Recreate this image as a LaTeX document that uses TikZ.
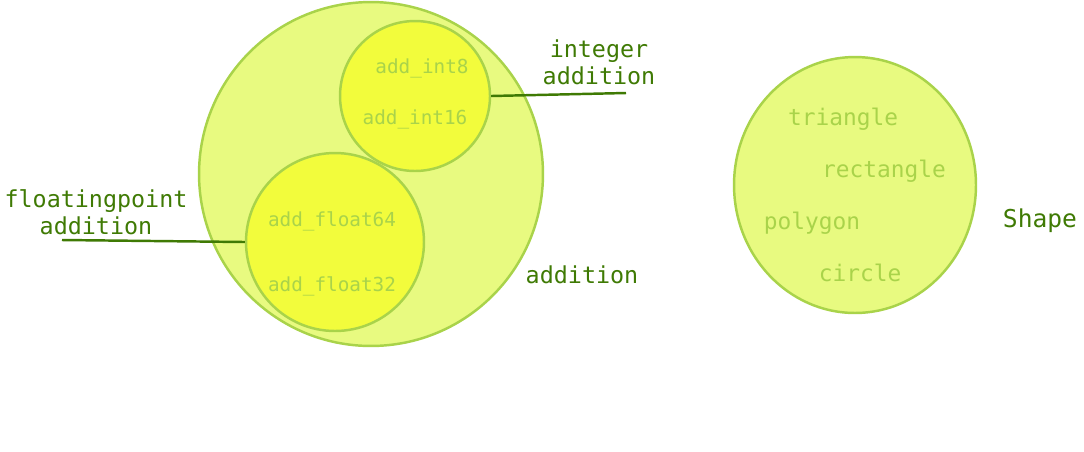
\documentclass[tikz,border=0pt]{standalone}
\usepackage{fontspec}
\setmonofont{DejaVu Sans Mono}
\usetikzlibrary{shapes.geometric}
\definecolor{setfill}{HTML}{E8FA80}
\definecolor{subfill}{HTML}{F2FC3C}
\definecolor{setedge}{HTML}{A9D34A}
\definecolor{member}{HTML}{A9D34A}
\definecolor{labelgreen}{HTML}{3F7A04}
\begin{document}
\begin{tikzpicture}[
    x=0.02cm, y=-0.02cm,
    set/.style={circle, draw=setedge, line width=1.4pt, fill=setfill, inner sep=0pt},
    subset/.style={circle, draw=setedge, line width=1.4pt, fill=subfill, inner sep=0pt},
    elem/.style={text=member, font=\ttfamily\fontsize{11}{13}\selectfont},
    bigelem/.style={text=member, font=\ttfamily\fontsize{13}{15}\selectfont},
    lbl/.style={text=labelgreen, align=center, font=\ttfamily\fontsize{13.3}{15.5}\selectfont},
    link/.style={draw=labelgreen, line width=1.4pt}
]
    \useasboundingbox (0,0) rectangle (1084,451);

    % addition set
    \node[set, minimum size=6.88cm] (addset) at (371,174) {};
    \node[subset, minimum size=3cm] (intset) at (415,96) {};
    \node[subset, minimum size=3.56cm] (floatset) at (335,242) {};

    \node[elem] (int8) at (422,68) {add\_int8};
    \node[elem] (int16) at (415,119) {add\_int16};
    \node[elem] (f64) at (332,221) {add\_float64};
    \node[elem] (f32) at (332,286) {add\_float32};

    \node[lbl] (addlbl) at (582,275) {addition};
    \node[lbl] (intlbl) at (599,62) {integer\\addition};
    \node[lbl] (floatlbl) at (96,212) {floatingpoint\\addition};

    \coordinate (intend) at (626,93);
    \coordinate (floatend) at (62,240);
    \draw[link] (intset.east) -- (intend);
    \draw[link] (floatend) -- (floatset.west);

    % shape set
    \node[ellipse, draw=setedge, line width=1.4pt, fill=setfill, inner sep=0pt,
          minimum width=4.84cm, minimum height=5.12cm] (shapeset) at (855,185) {};
    \node[bigelem] (tri) at (843,119) {triangle};
    \node[bigelem] (rect) at (884,171) {rectangle};
    \node[bigelem] (poly) at (812,223) {polygon};
    \node[bigelem] (circ) at (860,273) {circle};

    \node[lbl, font=\ttfamily\fontsize{14}{16}\selectfont] (shapelbl) at (1040,221) {Shape};
\end{tikzpicture}
\end{document}
